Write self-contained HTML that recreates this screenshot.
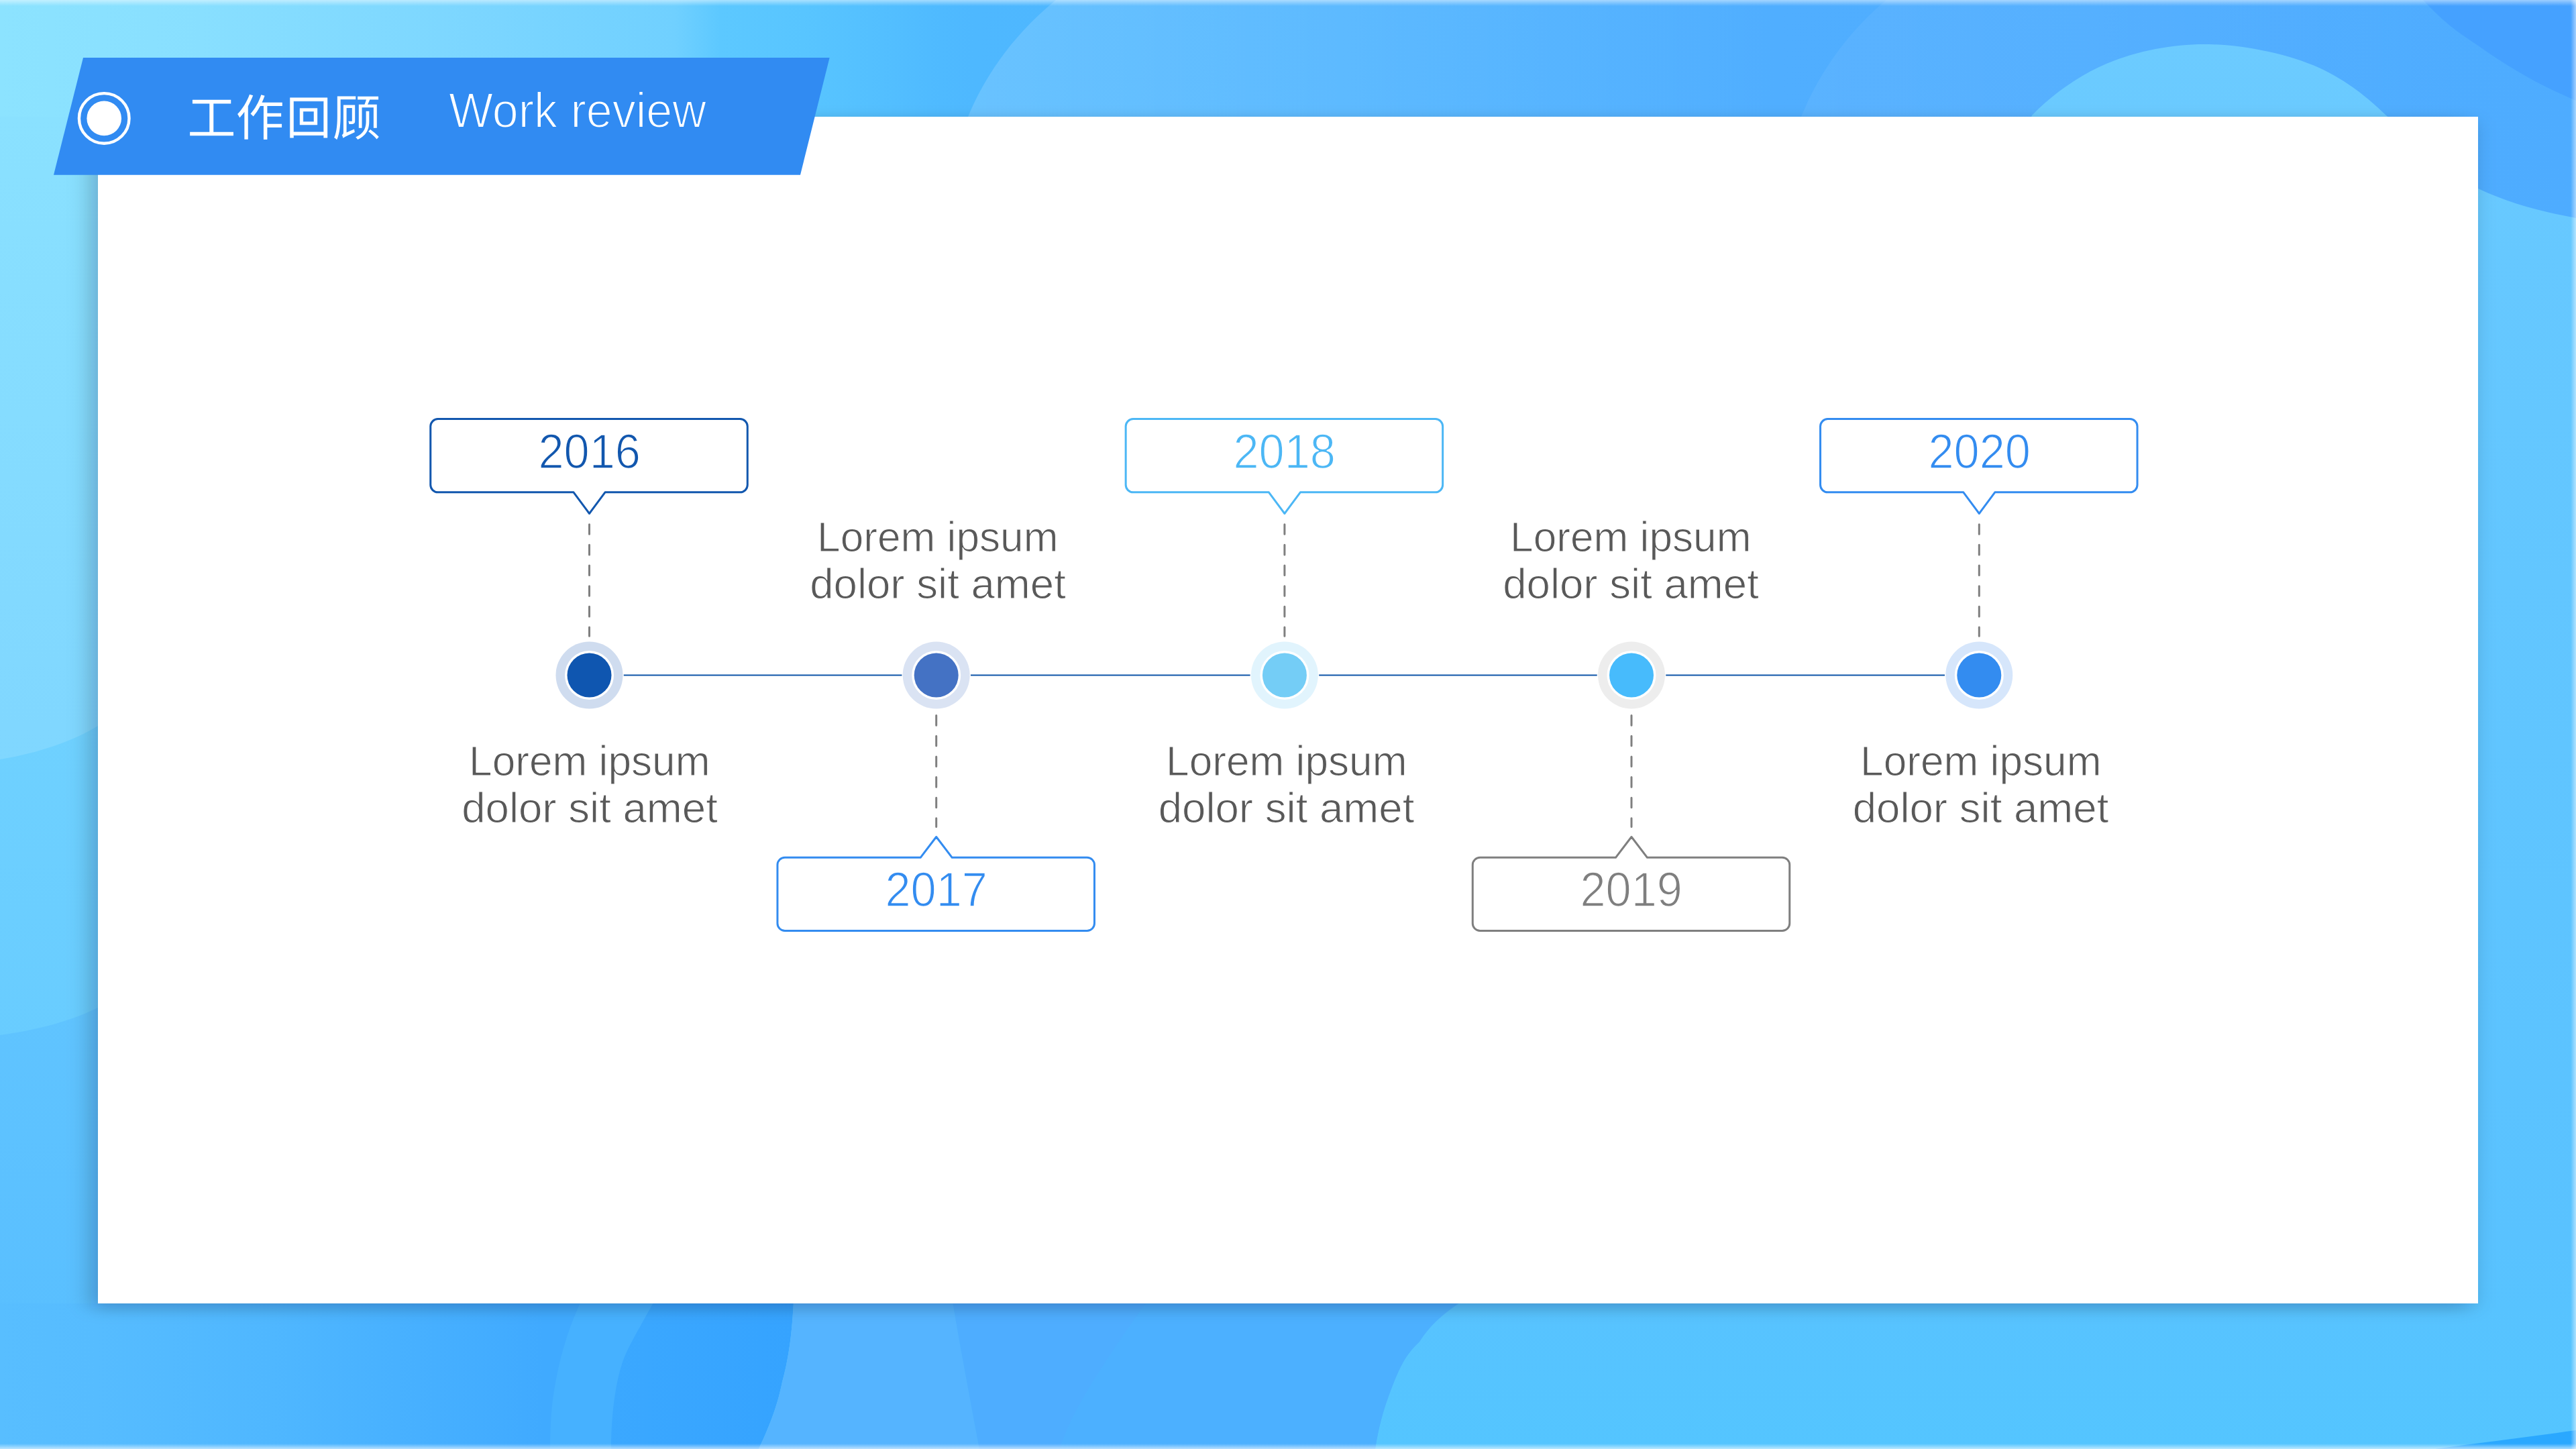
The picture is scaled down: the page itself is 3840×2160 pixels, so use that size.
<!DOCTYPE html>
<html lang="zh">
<head>
<meta charset="utf-8">
<title>工作回顾 Work review</title>
<style>
html,body{margin:0;padding:0;}
body{width:3840px;height:2160px;overflow:hidden;position:relative;background:#56b8ff;font-family:"Liberation Sans",sans-serif;}
svg{position:absolute;left:0;top:0;display:block;}
.panel{position:absolute;left:146px;top:173.5px;width:3548px;height:1769.5px;background:#fff;}
.ribbon{position:absolute;left:0;top:0;}
.wr{position:absolute;left:669px;top:123.5px;font-size:74.8px;line-height:80px;color:#fff;white-space:nowrap;transform-origin:0 0;transform:scaleX(.936);-webkit-text-stroke:1.8px #318bf2;}
.yr{position:absolute;width:400px;height:100px;line-height:100px;text-align:center;font-size:72.5px;white-space:nowrap;-webkit-text-stroke:1.5px #fff;}
.yr span{display:inline-block;transform:scaleX(.945);}
.lorem{position:absolute;width:500px;text-align:center;font-size:63.6px;line-height:69.6px;color:#595959;white-space:nowrap;-webkit-text-stroke:1px #fff;}
.lorem span{display:inline-block;}
.lorem .l1{transform:scaleX(.978);}
</style>
</head>
<body>
<svg class="bg" width="3840" height="2160" viewBox="0 0 3840 2160">
<defs>
<linearGradient id="gH" gradientUnits="userSpaceOnUse" x1="0" y1="0" x2="3840" y2="0">
<stop offset="0" stop-color="#8ce3ff"/>
<stop offset="0.078" stop-color="#88dfff"/>
<stop offset="0.182" stop-color="#7cd6ff"/>
<stop offset="0.262" stop-color="#70d0ff"/>
<stop offset="0.280" stop-color="#5cc8ff"/>
<stop offset="0.3125" stop-color="#58c5ff"/>
<stop offset="0.338" stop-color="#54c0ff"/>
<stop offset="0.365" stop-color="#4fbaff"/>
<stop offset="0.378" stop-color="#4eb8ff"/>
<stop offset="0.52" stop-color="#4fb4ff"/>
<stop offset="0.69" stop-color="#50aeff"/>
<stop offset="1" stop-color="#4eacff"/>
</linearGradient>
<linearGradient id="gV" gradientUnits="userSpaceOnUse" x1="0" y1="0" x2="0" y2="2160">
<stop offset="0" stop-color="#8ce3ff"/>
<stop offset="0.2" stop-color="#87deff"/>
<stop offset="0.5" stop-color="#80d7ff"/>
<stop offset="1" stop-color="#7ad3ff"/>
</linearGradient>
<linearGradient id="gV2" gradientUnits="userSpaceOnUse" x1="0" y1="1080" x2="0" y2="1560">
<stop offset="0" stop-color="#6fd1ff"/><stop offset="1" stop-color="#68ccff"/>
</linearGradient>
<linearGradient id="gV3" gradientUnits="userSpaceOnUse" x1="0" y1="1500" x2="0" y2="2160">
<stop offset="0" stop-color="#60c4ff"/><stop offset="0.7" stop-color="#59bfff"/><stop offset="1" stop-color="#57bdff"/>
</linearGradient>
<linearGradient id="gB" gradientUnits="userSpaceOnUse" x1="0" y1="0" x2="900" y2="0">
<stop offset="0" stop-color="#58beff"/><stop offset="0.16" stop-color="#56bcff"/><stop offset="0.45" stop-color="#4fb7ff"/><stop offset="0.9" stop-color="#40aaff"/><stop offset="1" stop-color="#40aaff"/>
</linearGradient>
<linearGradient id="gc1" gradientUnits="userSpaceOnUse" x1="1413" y1="0" x2="2650" y2="0">
<stop offset="0" stop-color="#fff" stop-opacity=".155"/><stop offset="1" stop-color="#fff" stop-opacity="0"/>
</linearGradient>
<linearGradient id="gc2" gradientUnits="userSpaceOnUse" x1="2660" y1="0" x2="3700" y2="0">
<stop offset="0" stop-color="#fff" stop-opacity=".06"/><stop offset="1" stop-color="#fff" stop-opacity="0"/>
</linearGradient>
<linearGradient id="gL" gradientUnits="userSpaceOnUse" x1="0" y1="60" x2="0" y2="2160">
<stop offset="0" stop-color="#6ccbff"/><stop offset="0.15" stop-color="#66c8ff"/><stop offset="0.5" stop-color="#60c5ff"/><stop offset="0.85" stop-color="#59c2ff"/><stop offset="1" stop-color="#54c5ff"/>
</linearGradient>
<linearGradient id="gD" gradientUnits="userSpaceOnUse" x1="911" y1="0" x2="1185" y2="0">
<stop offset="0" stop-color="#3ba8ff"/><stop offset="1" stop-color="#35a3ff"/>
</linearGradient>
<linearGradient id="et" x1="0" y1="0" x2="0" y2="1"><stop offset="0" stop-color="#fff" stop-opacity=".48"/><stop offset="1" stop-color="#fff" stop-opacity="0"/></linearGradient>
<linearGradient id="eb" x1="0" y1="1" x2="0" y2="0"><stop offset="0" stop-color="#fff" stop-opacity=".6"/><stop offset="1" stop-color="#fff" stop-opacity="0"/></linearGradient>
<linearGradient id="er" x1="1" y1="0" x2="0" y2="0"><stop offset="0" stop-color="#fff" stop-opacity=".5"/><stop offset="1" stop-color="#fff" stop-opacity="0"/></linearGradient>
</defs>
<!-- top strip / base -->
<rect width="3840" height="2160" fill="url(#gH)"/>
<!-- left strip with wave bands -->
<rect x="0" y="174" width="420" height="1986" fill="url(#gV)"/>
<path d="M0 1132C60 1122 110 1104 146 1082C200 1050 300 1000 420 980V2160H0Z" fill="url(#gV2)"/>
<path d="M0 1543C60 1535 110 1520 146 1502C220 1465 320 1440 420 1430V2160H0Z" fill="url(#gV3)"/>
<!-- bottom strip base (x up to first arc) -->
<rect x="0" y="1943" width="906" height="217" fill="url(#gB)"/>
<!-- big soft circles at top -->
<path d="M1574 0C1500 60 1437 150 1418 260H2700V0Z" fill="url(#gc1)"/>
<path d="M2812 0C2740 60 2680 150 2660 260H3840V0Z" fill="url(#gc2)"/>
<!-- large light blob: top-right hill, right strip, bottom-right -->
<path d="M3029 172C3060 140 3100 112 3140 95C3190 74 3245 65 3293 66C3345 67 3410 80 3457 101C3500 121 3530 146 3557 172C3600 208 3640 255 3694 281C3740 303 3790 316 3840 325V2160H2050C2056 2120 2066 2090 2078 2060C2090 2030 2100 2015 2116 2000C2132 1975 2150 1960 2172 1945L2400 1800Z" fill="url(#gL)"/>
<!-- dark top-right corner -->
<path d="M3612 0C3640 30 3660 45 3675 55C3700 72 3725 90 3749 104C3775 120 3805 135 3840 150V0Z" fill="#45a1ff"/>
<!-- bottom arcs -->
<path d="M866 1940C845 1985 832 2030 824 2086C821 2110 820 2135 820 2160H1000V1940Z" fill="#46b1ff"/>
<path d="M975 1940C950 1985 938 2005 930 2025C920 2050 911 2100 911 2160H1131C1150 2120 1160 2090 1166 2060C1174 2030 1180 2000 1183 1940Z" fill="url(#gD)"/>
<path d="M1183 1940C1180 2000 1174 2030 1166 2060C1160 2090 1150 2120 1131 2160H1460C1445 2080 1430 2000 1420 1940Z" fill="#55b4ff"/>
<path d="M1420 1940C1430 2000 1445 2080 1460 2160H1580C1600 2100 1640 2040 1710 1940Z" fill="#4eadff"/>
<path d="M1710 1940C1640 2040 1600 2100 1580 2160H2050C2056 2120 2066 2090 2078 2060C2090 2030 2100 2015 2116 2000C2132 1975 2150 1960 2176 1940Z" fill="#4cb0ff"/>
<!-- bottom-right dark sliver -->
<path d="M3630 2160C3700 2150 3770 2142 3840 2132V2160Z" fill="#2aa8ff"/>
<!-- light edges -->
<rect x="0" y="0" width="3840" height="9" fill="url(#et)"/>
<rect x="0" y="2152" width="3840" height="8" fill="url(#eb)"/>
<rect x="3832" y="0" width="8" height="2160" fill="url(#er)"/>
</svg>

<svg class="shadow" width="3840" height="2160" viewBox="0 0 3840 2160"><defs><filter id="sh" filterUnits="userSpaceOnUse" x="0" y="60" width="3840" height="2100"><feGaussianBlur stdDeviation="17 11"/></filter></defs><rect x="136" y="181" width="3548" height="1769" fill="#000c1e" fill-opacity=".24" filter="url(#sh)"/></svg>
<div class="panel"></div>
<svg class="ribbon" width="3840" height="2160" viewBox="0 0 3840 2160">
<polygon points="124,86 1236.6,86 1193,260.7 80,260.7" fill="#318bf2"/>
<circle cx="155.2" cy="176.4" r="37.3" fill="none" stroke="#fff" stroke-width="4.4"/>
<circle cx="155.2" cy="176.4" r="25.8" fill="#fff"/>
</svg>
<svg class="cjk" role="img" aria-label="工作回顾" width="3840" height="2160" viewBox="0 0 3840 2160"><title>工作回顾</title><g fill="#fff" transform="translate(279.40 202.10) scale(0.07207 -0.07340)"><path transform="translate(0.0 0)" d="M52 72V-3H951V72H539V650H900V727H104V650H456V72Z"/><path transform="translate(1000.0 0)" d="M526 828C476 681 395 536 305 442C322 430 351 404 363 391C414 447 463 520 506 601H575V-79H651V164H952V235H651V387H939V456H651V601H962V673H542C563 717 582 763 598 809ZM285 836C229 684 135 534 36 437C50 420 72 379 80 362C114 397 147 437 179 481V-78H254V599C293 667 329 741 357 814Z"/><path transform="translate(2000.0 0) translate(508 362) scale(.92 .925) translate(-500 -360)" stroke="#fff" stroke-width="7" d="M374 500H618V271H374ZM303 568V204H692V568ZM82 799V-79H159V-25H839V-79H919V799ZM159 46V724H839V46Z"/><path transform="translate(3000.0 0)" d="M694 494V292C694 190 674 50 479 -31C494 -44 513 -67 522 -81C733 15 759 168 759 291V494ZM742 82C804 36 880 -31 916 -75L959 -27C923 15 844 80 783 124ZM100 800V408C100 270 95 86 35 -43C50 -51 80 -71 91 -83C157 53 167 262 167 409V734H481V800ZM220 -52C236 -35 266 -20 462 71C457 84 452 111 450 130L291 61V559H405V302C405 293 403 291 394 291C385 290 359 290 326 291C335 274 342 249 344 232C389 232 421 233 441 243C462 254 466 272 466 302V622H226V67C226 31 209 20 194 14C205 -3 216 -34 220 -52ZM544 630V155H609V571H850V155H918V630H728C743 660 758 696 772 730H950V795H520V730H698C689 698 676 661 664 630Z"/></g></svg>
<div class="wr">Work review</div>
<svg class="tl" width="3840" height="2160" viewBox="0 0 3840 2160">
<line x1="878" y1="1006.5" x2="2950" y2="1006.5" stroke="#0f55a8" stroke-width="2.2"/>
<circle cx="878.5" cy="1006.5" r="51.3" fill="#fff"/>
<circle cx="878.5" cy="1006.5" r="50" fill="#cfdcef"/>
<circle cx="878.5" cy="1006.5" r="36.5" fill="#fff"/>
<circle cx="878.5" cy="1006.5" r="33" fill="#0f56b0"/>
<path d="M652.75 624.6H1103.25A11 11 0 0 1 1114.25 635.6V722.8000000000001A11 11 0 0 1 1103.25 733.8000000000001H902.0L878.5 765.5L855.0 733.8000000000001H652.75A11 11 0 0 1 641.75 722.8000000000001V635.6A11 11 0 0 1 652.75 624.6Z" fill="#fff" stroke="#1257ae" stroke-width="3" stroke-linejoin="round"/>
<line x1="878.5" y1="781.7" x2="878.5" y2="948.3" stroke="#7f7f7f" stroke-width="3" stroke-dasharray="14.6 16.05" stroke-linecap="round"/>
<circle cx="1395.7" cy="1006.5" r="51.3" fill="#fff"/>
<circle cx="1395.7" cy="1006.5" r="50" fill="#dae3f3"/>
<circle cx="1395.7" cy="1006.5" r="36.5" fill="#fff"/>
<circle cx="1395.7" cy="1006.5" r="33" fill="#4472c4"/>
<path d="M1169.95 1278.3H1372.2L1395.7 1247.5L1419.2 1278.3H1620.45A11 11 0 0 1 1631.45 1289.3V1376.5A11 11 0 0 1 1620.45 1387.5H1169.95A11 11 0 0 1 1158.95 1376.5V1289.3A11 11 0 0 1 1169.95 1278.3Z" fill="#fff" stroke="#338cf0" stroke-width="3" stroke-linejoin="round"/>
<line x1="1395.7" y1="1066.6" x2="1395.7" y2="1232.4" stroke="#7f7f7f" stroke-width="3" stroke-dasharray="14.6 16.05" stroke-linecap="round"/>
<circle cx="1914.9" cy="1006.5" r="51.3" fill="#fff"/>
<circle cx="1914.9" cy="1006.5" r="50" fill="#e1f4fd"/>
<circle cx="1914.9" cy="1006.5" r="36.5" fill="#fff"/>
<circle cx="1914.9" cy="1006.5" r="33" fill="#74cdf6"/>
<path d="M1689.15 624.6H2139.65A11 11 0 0 1 2150.65 635.6V722.8000000000001A11 11 0 0 1 2139.65 733.8000000000001H1938.4L1914.9 765.5L1891.4 733.8000000000001H1689.15A11 11 0 0 1 1678.15 722.8000000000001V635.6A11 11 0 0 1 1689.15 624.6Z" fill="#fff" stroke="#4cb7f5" stroke-width="3" stroke-linejoin="round"/>
<line x1="1914.9" y1="781.7" x2="1914.9" y2="948.3" stroke="#7f7f7f" stroke-width="3" stroke-dasharray="14.6 16.05" stroke-linecap="round"/>
<circle cx="2432.0" cy="1006.5" r="51.3" fill="#fff"/>
<circle cx="2432.0" cy="1006.5" r="50" fill="#ededed"/>
<circle cx="2432.0" cy="1006.5" r="36.5" fill="#fff"/>
<circle cx="2432.0" cy="1006.5" r="33" fill="#47bbfc"/>
<path d="M2206.25 1278.3H2408.5L2432.0 1247.5L2455.5 1278.3H2656.75A11 11 0 0 1 2667.75 1289.3V1376.5A11 11 0 0 1 2656.75 1387.5H2206.25A11 11 0 0 1 2195.25 1376.5V1289.3A11 11 0 0 1 2206.25 1278.3Z" fill="#fff" stroke="#7f7f7f" stroke-width="3" stroke-linejoin="round"/>
<line x1="2432.0" y1="1066.6" x2="2432.0" y2="1232.4" stroke="#7f7f7f" stroke-width="3" stroke-dasharray="14.6 16.05" stroke-linecap="round"/>
<circle cx="2950.3" cy="1006.5" r="51.3" fill="#fff"/>
<circle cx="2950.3" cy="1006.5" r="50" fill="#d6e6fb"/>
<circle cx="2950.3" cy="1006.5" r="36.5" fill="#fff"/>
<circle cx="2950.3" cy="1006.5" r="33" fill="#338cf0"/>
<path d="M2724.55 624.6H3175.05A11 11 0 0 1 3186.05 635.6V722.8000000000001A11 11 0 0 1 3175.05 733.8000000000001H2973.8L2950.3 765.5L2926.8 733.8000000000001H2724.55A11 11 0 0 1 2713.55 722.8000000000001V635.6A11 11 0 0 1 2724.55 624.6Z" fill="#fff" stroke="#338cf0" stroke-width="3" stroke-linejoin="round"/>
<line x1="2950.3" y1="781.7" x2="2950.3" y2="948.3" stroke="#7f7f7f" stroke-width="3" stroke-dasharray="14.6 16.05" stroke-linecap="round"/>
</svg>
<div class="yr" style="left:678.5px;top:623px;color:#1257ae"><span>2016</span></div>
<div class="lorem" style="left:629px;top:1099.2px"><span class="l1">Lorem ipsum</span><br><span class="l2">dolor sit amet</span></div>
<div class="yr" style="left:1195.7px;top:1276px;color:#338cf0"><span>2017</span></div>
<div class="lorem" style="left:1148px;top:765.2px"><span class="l1">Lorem ipsum</span><br><span class="l2">dolor sit amet</span></div>
<div class="yr" style="left:1714.9px;top:623px;color:#4cb7f5"><span>2018</span></div>
<div class="lorem" style="left:1667.5px;top:1099.2px"><span class="l1">Lorem ipsum</span><br><span class="l2">dolor sit amet</span></div>
<div class="yr" style="left:2232.0px;top:1276px;color:#7f7f7f"><span>2019</span></div>
<div class="lorem" style="left:2181px;top:765.2px"><span class="l1">Lorem ipsum</span><br><span class="l2">dolor sit amet</span></div>
<div class="yr" style="left:2750.3px;top:623px;color:#338cf0"><span>2020</span></div>
<div class="lorem" style="left:2702.5px;top:1099.2px"><span class="l1">Lorem ipsum</span><br><span class="l2">dolor sit amet</span></div>
</body>
</html>
